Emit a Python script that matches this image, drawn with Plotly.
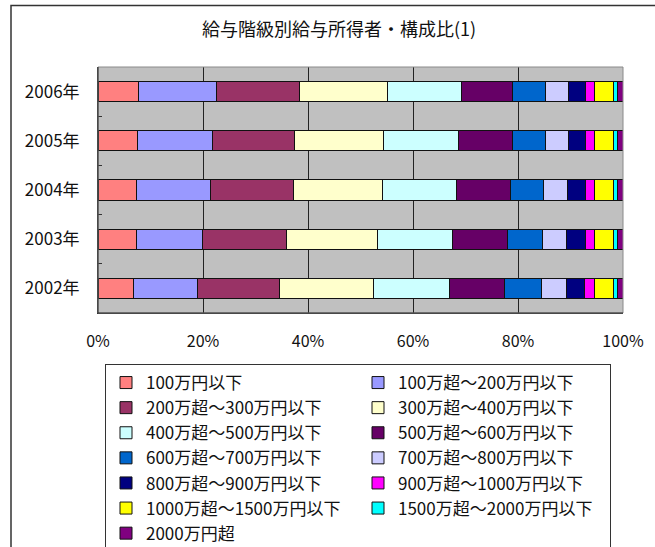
import plotly.graph_objects as go

# Survey years (bottom to top on the chart)
years = ["2002年", "2003年", "2004年", "2005年", "2006年"]

# Salary brackets (legend order)
brackets = [
    "100万円以下",
    "100万超～200万円以下",
    "200万超～300万円以下",
    "300万超～400万円以下",
    "400万超～500万円以下",
    "500万超～600万円以下",
    "600万超～700万円以下",
    "700万超～800万円以下",
    "800万超～900万円以下",
    "900万超～1000万円以下",
    "1000万超～1500万円以下",
    "1500万超～2000万円以下",
    "2000万円超",
]

# Share of earners (%) per bracket, for 2002..2006
share_0_100 = [6.7, 7.3, 7.3, 7.5, 7.7]
share_100_200 = [12.3, 12.7, 14.2, 14.3, 14.8]
share_200_300 = [15.6, 15.9, 15.8, 15.7, 15.9]
share_300_400 = [17.8, 17.3, 16.9, 16.9, 16.8]
share_400_500 = [14.5, 14.4, 14.2, 14.2, 14.0]
share_500_600 = [10.6, 10.5, 10.3, 10.3, 9.7]
share_600_700 = [6.9, 6.6, 6.3, 6.3, 6.3]
share_700_800 = [4.8, 4.7, 4.6, 4.4, 4.4]
share_800_900 = [3.4, 3.5, 3.3, 3.2, 3.2]
share_900_1000 = [2.0, 1.8, 1.8, 1.8, 1.7]
share_1000_1500 = [3.6, 3.6, 3.6, 3.6, 3.7]
share_1500_2000 = [0.8, 0.8, 0.8, 0.8, 0.8]
share_2000_over = [1.0, 1.0, 1.0, 1.0, 1.0]

shares = [
    share_0_100, share_100_200, share_200_300, share_300_400, share_400_500,
    share_500_600, share_600_700, share_700_800, share_800_900, share_900_1000,
    share_1000_1500, share_1500_2000, share_2000_over,
]

# Percentage axis ticks
pct_ticks = [0, 20, 40, 60, 80, 100]
pct_labels = ["0%", "20%", "40%", "60%", "80%", "100%"]

colors = [
    "#FF8080", "#9999FF", "#993366", "#FFFFCC", "#CCFFFF", "#660066", "#0066CC",
    "#CCCCFF", "#000080", "#FF00FF", "#FFFF00", "#00FFFF", "#800080",
]

FONT = "Noto Sans CJK JP"

fig = go.Figure()
for name, vals, col in zip(brackets, shares, colors):
    fig.add_trace(go.Bar(
        y=years, x=vals, name=name, orientation="h",
        marker=dict(color=col, line=dict(color="#111111", width=1)),
    ))

W, H = 655, 547
L, R, T, B = 98, 32, 67, 234
pw, ph = W - L - R, H - T - B

def px_x(v):
    return (v - L) / pw

def px_y(v):
    return (H - B - v) / ph

fig.update_layout(
    width=W, height=H,
    margin=dict(l=L, r=R, t=T, b=B, autoexpand=False),
    barmode="stack", barnorm="percent", bargap=0.59,
    paper_bgcolor="white", plot_bgcolor="#C0C0C0",
    font=dict(family=FONT, color="#111111"),
    title=dict(
        text="給与階級別給与所得者・構成比(1)",
        font=dict(family=FONT, size=18, color="#111111"),
        x=339 / W, xanchor="center", xref="container",
        y=1 - 30 / H, yanchor="middle", yref="container",
    ),
    xaxis=dict(
        range=[0, 100], tickmode="array", tickvals=pct_ticks, ticktext=pct_labels,
        showgrid=True, gridcolor="#222222", gridwidth=1,
        showline=True, linecolor="#333333", linewidth=1,
        zeroline=False, ticks="", ticklabelstandoff=14,
        tickfont=dict(family=FONT, size=16, color="#111111"),
        fixedrange=True,
    ),
    yaxis=dict(
        categoryorder="array", categoryarray=years,
        showgrid=False, showline=True, linecolor="#333333", linewidth=1,
        ticks="inside", ticklen=4, tickcolor="#333333", tickson="boundaries",
        ticklabelstandoff=14,
        tickfont=dict(family=FONT, size=17, color="#111111"),
        fixedrange=True,
    ),
    legend=dict(
        orientation="h", traceorder="normal",
        xref="container", yref="container",
        x=105 / W, xanchor="left", y=1 - 364 / H, yanchor="top",
        entrywidth=207, entrywidthmode="pixels",
        bgcolor="white", bordercolor="#333333", borderwidth=1,
        font=dict(family=FONT, size=17, color="#111111"),
        itemwidth=30,
    ),
    showlegend=True,
)

# Grey frame around the plot area
fig.add_shape(type="rect", xref="x domain", yref="y domain",
              x0=0, x1=1, y0=0, y1=1, line=dict(color="#8A8A8A", width=1),
              fillcolor="rgba(0,0,0,0)", layer="above")
# Outer chart frame
fig.add_shape(type="rect", xref="paper", yref="paper",
              x0=px_x(11), x1=px_x(670), y0=px_y(5.5), y1=px_y(570),
              line=dict(color="#333333", width=1.5), fillcolor="rgba(0,0,0,0)",
              layer="above")
# Dark axis lines on the left and bottom edges
fig.add_shape(type="line", xref="x domain", yref="y domain",
              x0=0, x1=0, y0=0, y1=1, line=dict(color="#333333", width=1), layer="above")
fig.add_shape(type="line", xref="x domain", yref="y domain",
              x0=0, x1=1, y0=0, y1=0, line=dict(color="#333333", width=1), layer="above")

fig.write_html("out.html")
